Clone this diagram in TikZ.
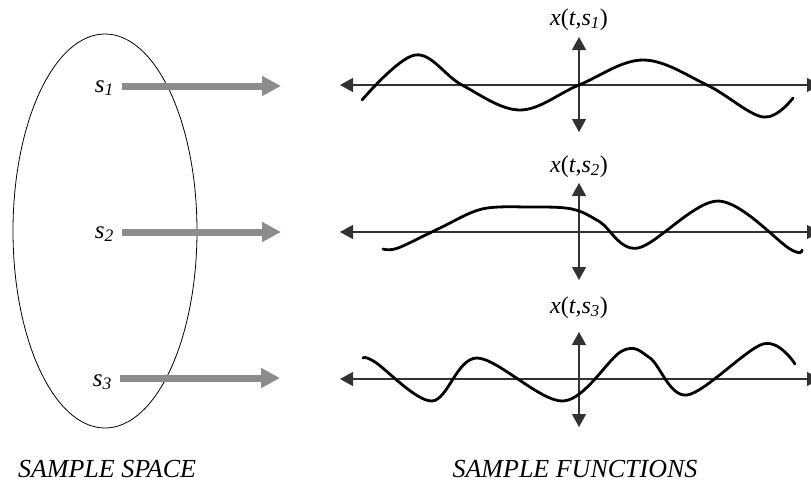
\documentclass[tikz,border=0pt]{standalone}
\usepackage{fontspec}
\setmainfont{Liberation Serif}
\usetikzlibrary{arrows.meta,shapes.geometric}
\tikzset{
  grayarrow/.style={line width=7pt, draw={rgb,255:red,140;green,140;blue,140}, -{Triangle[length=19pt,width=19pt]}},
  axisline/.style={line width=1.3pt, draw={rgb,255:red,50;green,50;blue,50}, {Triangle[length=13pt,width=14pt]}-{Triangle[length=13pt,width=14pt]}},
  wave/.style={line width=2.8pt, line cap=round, line join=round},
  slabel/.style={font=\fontsize{25}{28}\selectfont, anchor=base east, inner sep=0pt},
  flabel/.style={font=\fontsize{24}{28}\selectfont, anchor=base, inner sep=0pt},
  title/.style={font=\fontsize{26}{30}\selectfont\itshape, anchor=base, inner sep=0pt},
}
\begin{document}
\begin{tikzpicture}[x=1pt,y=-1pt]
\useasboundingbox (0,0) rectangle (811,483);
% sample space
\node[draw, ellipse, line width=0.8pt, minimum width=184pt, minimum height=394pt, inner sep=0pt] (space) at (105,231) {};
\node[slabel] (s1) at (114,92) {\textit{s}\textsubscript{\textit{1}}};
\node[slabel] (s2) at (114,238) {\textit{s}\textsubscript{\textit{2}}};
\node[slabel] (s3) at (112,386) {\textit{s}\textsubscript{\textit{3}}};
\coordinate (a1s) at (122,86); \coordinate (a1e) at (281,86);
\coordinate (a2s) at (122,232); \coordinate (a2e) at (281,232);
\coordinate (a3s) at (120,378); \coordinate (a3e) at (280,378);
\draw[grayarrow] (a1s) -- (a1e);
\draw[grayarrow] (a2s) -- (a2e);
\draw[grayarrow] (a3s) -- (a3e);
% plot 1
\coordinate (h1l) at (340,85); \coordinate (h1r) at (820,85);
\coordinate (v1t) at (579,37); \coordinate (v1b) at (579,132);
\draw[axisline] (h1l) -- (h1r);
\draw[axisline] (v1b) -- (v1t);
\node[flabel] (f1) at (579,25) {\textit{x}(\textit{t},\textit{s}\textsubscript{\textit{1}})};
\draw[wave] plot[smooth, tension=0.6] coordinates {(362,100) (415,55) (462,85) (520,110) (579,85) (643,60) (707,85) (763,117) (793,98)};
% plot 2
\coordinate (h2l) at (340,232); \coordinate (h2r) at (820,232);
\coordinate (v2t) at (579,183); \coordinate (v2b) at (579,280);
\draw[axisline] (h2l) -- (h2r);
\draw[axisline] (v2b) -- (v2t);
\node[flabel] (f2) at (579,172) {\textit{x}(\textit{t},\textit{s}\textsubscript{\textit{2}})};
\draw[wave] plot[smooth, tension=0.55] coordinates {(383,249) (398,248) (440,228) (482,209) (530,207) (572,209) (600,222) (638,248) (718,201) (790,249) (802,250)};
% plot 3
\coordinate (h3l) at (340,379); \coordinate (h3r) at (820,379);
\coordinate (v3t) at (579,332); \coordinate (v3b) at (579,427);
\draw[axisline] (h3l) -- (h3r);
\draw[axisline] (v3b) -- (v3t);
\node[flabel] (f3) at (579,313) {\textit{x}(\textit{t},\textit{s}\textsubscript{\textit{3}})};
\draw[wave] plot[smooth, tension=0.55] coordinates {(363,358) (375,362) (432,401) (477,358) (563,401) (622,351) (650,358) (687,395) (763,344) (795,364)};
% titles
\node[title] (t1) at (107,477) {SAMPLE SPACE};
\node[title] (t2) at (575,477) {SAMPLE FUNCTIONS};
\end{tikzpicture}
\end{document}
